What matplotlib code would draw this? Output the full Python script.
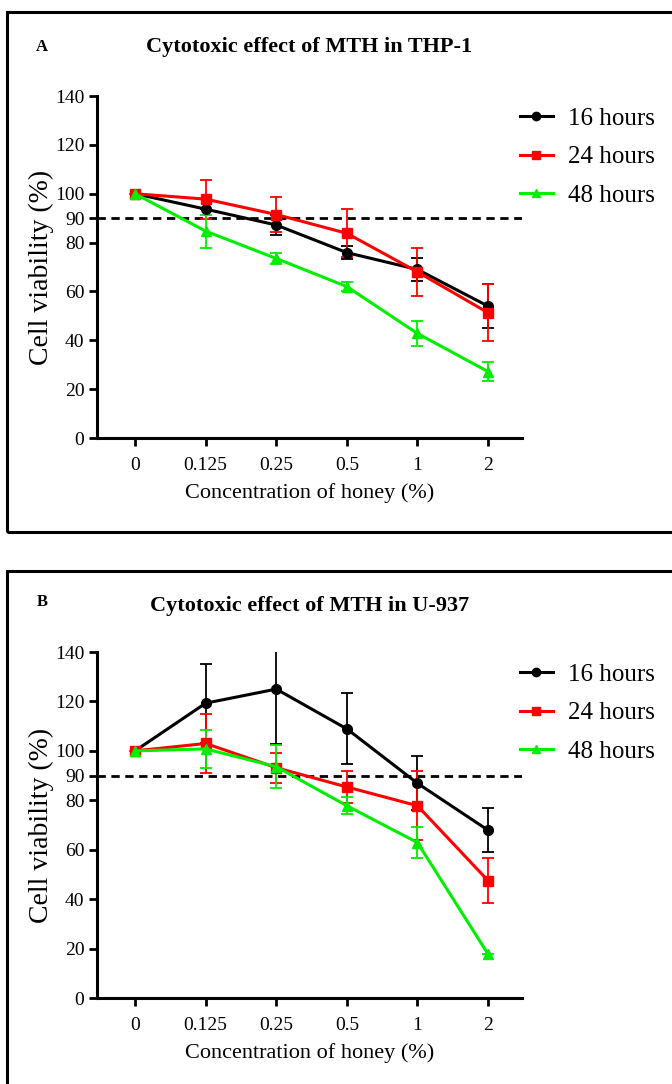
import matplotlib.pyplot as plt
import matplotlib.patches as patches
from matplotlib.lines import Line2D
import numpy as np

plt.rcParams['font.family'] = ['Liberation Serif', 'DejaVu Serif']

conc = ["0", "0.125", "0.25", "0.5", "1", "2"]
series = ["16 hours", "24 hours", "48 hours"]
colors = ["black", "#ff0000", "#00ee00"]
markers = ["o", "s", "^"]

# panel A: THP-1
thp_mean = {
    "16 hours": [100, 93.7, 87.2, 75.9, 69.0, 54.0],
    "24 hours": [100, 97.8, 91.5, 83.8, 68.0, 51.3],
    "48 hours": [100, 84.7, 73.5, 62.0, 42.8, 27.2],
}
thp_err = {
    "16 hours": [0, 0, 4.0, 2.7, 4.6, 9.0],
    "24 hours": [0, 8.0, 7.2, 9.8, 10.0, 11.7],
    "48 hours": [0, 6.8, 2.2, 2.0, 5.3, 3.8],
}

# panel B: U-937
u937_mean = {
    "16 hours": [100, 119.3, 125.0, 108.9, 86.9, 67.9],
    "24 hours": [100, 103.0, 93.2, 85.4, 77.8, 47.5],
    "48 hours": [100, 100.8, 93.6, 77.8, 62.9, 17.8],
}
u937_err = {
    "16 hours": [0, 16.0, 22.3, 14.4, 11.0, 9.0],
    "24 hours": [0, 12.0, 6.0, 6.5, 14.0, 9.0],
    "48 hours": [0, 7.7, 8.8, 3.5, 6.3, 0],
}

yticks = [0, 20, 40, 60, 80, 90, 100, 120, 140]

fig = plt.figure(figsize=(6.72, 10.84), dpi=100)


def draw_panel(rect, title, letter, mean, err, title_y, letter_y):
    ax = fig.add_axes(rect)
    x = np.arange(len(conc))
    ax.axhline(90, color="black", linestyle=(0, (3, 2)), linewidth=2.0, zorder=1)
    handles = []
    for name, c, m in zip(series, colors, markers):
        ax.errorbar(x, mean[name], yerr=err[name], color=c, linewidth=2.2,
                    elinewidth=1.3, capsize=4, capthick=1.3, marker=m,
                    markersize=7, zorder=3)
        handles.append(Line2D([], [], color=c, linewidth=2.2, marker=m,
                              markersize=6, label=name))
    ax.set_xlim(-0.54, 5.48)
    ax.set_ylim(0, 140)
    ax.set_xticks(x)
    ax.set_xticklabels(conc, fontsize=14)
    ax.set_yticks(yticks)
    ax.set_yticklabels([str(t) for t in yticks], fontsize=14)
    ax.tick_params(axis="both", direction="out", length=6, width=2, pad=3)
    ax.tick_params(axis="x", pad=8)
    for s in ["top", "right"]:
        ax.spines[s].set_visible(False)
    for s in ["left", "bottom"]:
        ax.spines[s].set_linewidth(2.2)
    ax.set_xlabel("Concentration of honey (%)", fontsize=16, labelpad=6)
    ax.set_ylabel("Cell viability (%)", fontsize=20, labelpad=1)
    fig.text(0.46, title_y, title, fontsize=16, fontweight="bold",
             ha="center", va="center")
    fig.text(0.063, letter_y, letter, fontsize=12, fontweight="bold",
             ha="center", va="center")
    ax.legend(handles=handles, loc="upper left", bbox_to_anchor=(0.99, 0.975),
              frameon=False, fontsize=18, handlelength=1.3,
              handletextpad=0.6, labelspacing=0.65, borderaxespad=0.1,
              borderpad=0.0)
    return ax


draw_panel([0.1443, 0.5959, 0.6324, 0.3155], "Cytotoxic effect of MTH in THP-1",
           "A", thp_mean, thp_err, 1 - 47 / 1084, 1 - 47 / 1084)
draw_panel([0.1443, 0.0793, 0.6324, 0.3192], "Cytotoxic effect of MTH in U-937",
           "B", u937_mean, u937_err, 1 - 606 / 1084, 1 - 602 / 1084)

# panel borders
for y0, y1 in [(12, 532), (571, 1090)]:
    fig.patches.append(patches.Rectangle((6.5 / 672, 1 - y1 / 1084),
                                         1.05, (y1 - y0) / 1084,
                                         transform=fig.transFigure,
                                         fill=False, edgecolor="black",
                                         linewidth=2.2, clip_on=False))

fig.savefig("out.png", dpi=100)
